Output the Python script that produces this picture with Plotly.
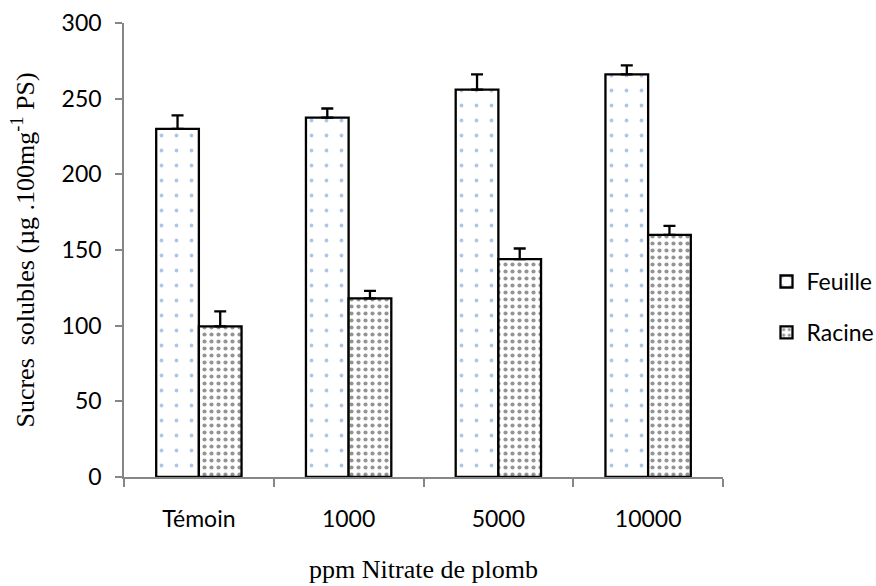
import plotly.graph_objects as go

categories = ["Témoin", "1000", "5000", "10000"]
feuille = [230, 237.5, 256, 266]
feuille_err = [9, 6, 10, 6]
racine = [99.5, 118, 144, 160]
racine_err = [10, 5, 7, 6]

fig = go.Figure()
fig.add_trace(go.Bar(
    x=categories, y=feuille, name="Feuille", legendgroup="f",
    marker=dict(color="white", line=dict(color="black", width=2.3),
                pattern=dict(shape=".", fgcolor="#5b8bd0", bgcolor="white", size=15, solidity=0.05, fillmode="overlay")),
    error_y=dict(type="data", array=feuille_err, arrayminus=[0]*4, symmetric=False,
                 color="black", thickness=2.3, width=6),
))
fig.add_trace(go.Bar(
    x=categories, y=racine, name="Racine", legendgroup="r",
    marker=dict(color="white", line=dict(color="black", width=2.3),
                pattern=dict(shape=".", fgcolor="#2a2a2a", bgcolor="white", size=7, solidity=0.28, fillmode="overlay")),
    error_y=dict(type="data", array=racine_err, arrayminus=[0]*4, symmetric=False,
                 color="black", thickness=2.3, width=6),
))

fig.update_layout(
    width=876, height=586,
    paper_bgcolor="white", plot_bgcolor="white",
    margin=dict(l=124, r=153, t=23, b=109, autoexpand=False),
    barmode="group", bargap=0.43, bargroupgap=0,
    font=dict(family="Lato, Liberation Sans, sans-serif", size=23, color="black"),
    legend=dict(xref="container", yref="container", x=0.875, y=0.476, xanchor="left", yanchor="middle",
                tracegroupgap=18, font=dict(size=23), itemwidth=30),
    xaxis=dict(showline=True, linecolor="#868686", linewidth=1.5, ticks="outside", tickson="boundaries",
               ticklen=8, tickcolor="#868686", tickwidth=1.5, ticklabelstandoff=21, automargin=False,
               title=dict(text="ppm Nitrate de plomb", font=dict(family="Liberation Serif", size=26), standoff=28)),
    yaxis=dict(range=[0, 300], dtick=50, showgrid=False, showline=True, linecolor="#868686", linewidth=1.5,
               ticks="outside", ticklen=7, tickcolor="#868686", tickwidth=1.5, ticklabelstandoff=9, zeroline=False,
               automargin=False,
               title=dict(text="Sucres  solubles (µg .100mg<sup>-1</sup> PS)",
                          font=dict(family="Liberation Serif", size=26), standoff=20)),
)

fig.write_html("out.html", config={"displayModeBar": False},
               post_script="document.body.style.margin='0';")
